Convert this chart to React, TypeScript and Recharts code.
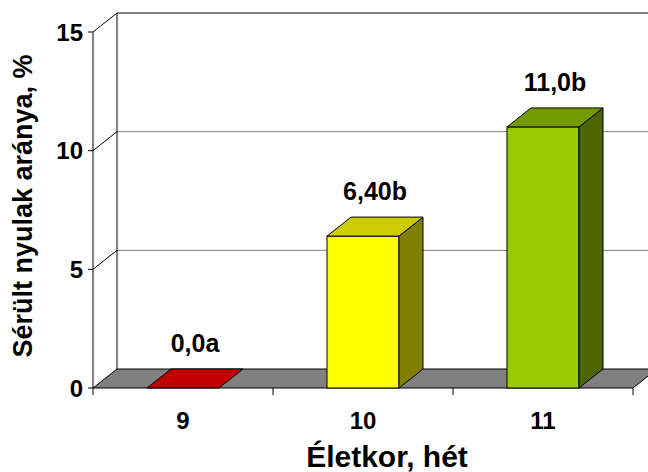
import React from 'react';
import { BarChart, Bar, XAxis, YAxis, CartesianGrid, LabelList } from 'recharts';

// Injured rabbits by age (weeks)
const AGE_WEEKS = ['9', '10', '11'];
const INJURED_PCT = [0, 6.4, 11.0];
const VALUE_LABELS = ['0,0a', '6,40b', '11,0b'];
const Y_TICKS = [0, 5, 10, 15];

// Face colours for each bar: front, top, right side
const FRONT_COLORS = ['#FF0000', '#FFFF00', '#99CC00'];
const TOP_COLORS = ['#C00000', '#CCCC00', '#739900'];
const SIDE_COLORS = ['#800000', '#808000', '#4D6600'];

const data = AGE_WEEKS.map((age, i) => ({
  age,
  value: INJURED_PCT[i],
  label: VALUE_LABELS[i],
}));

// Oblique depth of the 3D projection
const DX = 24;
const DY = 19;

const FONT = '"Liberation Sans", Arial, Helvetica, sans-serif';

// Back wall, side-wall edges and floor, drawn from the y-axis grid coordinates
const WallLine = (p: any) => {
  const { x1, x2, y1, index } = p;
  const top = p.y;
  const bottom = p.y + p.height;
  const isFloor = Math.abs(y1 - bottom) < 1;
  const isTop = Math.abs(y1 - top) < 1;
  const bx1 = x1 + DX;
  const bx2 = x2 + DX;
  const by = y1 - DY;

  if (isFloor) {
    const n = AGE_WEEKS.length;
    const step = (x2 - x1) / n;
    const ticks = [];
    for (let i = 0; i <= n; i++) {
      const tx = x1 + i * step;
      ticks.push(<line key={`t${i}`} x1={tx} y1={y1} x2={tx} y2={y1 + 7} stroke="#000" strokeWidth={1} />);
    }
    return (
      <g key={`wall-${index}`}>
        <polygon
          points={`${x1},${y1} ${x2},${y1} ${bx2},${by} ${bx1},${by}`}
          fill="#808080"
          stroke="#000"
          strokeWidth={1}
        />
        {ticks}
      </g>
    );
  }

  return (
    <g key={`wall-${index}`}>
      <line x1={bx1} y1={by} x2={bx2} y2={by} stroke={isTop ? '#000' : '#808080'} strokeWidth={1} />
      <line x1={x1} y1={y1} x2={bx1} y2={by} stroke="#000" strokeWidth={1} />
      {isTop && <line x1={bx1} y1={by} x2={bx1} y2={by + p.height} stroke="#000" strokeWidth={1} />}
    </g>
  );
};

// Box-shaped bar: front face, top face and right side face
const Bar3D = (p: any) => {
  const { x, y, width, height } = p;
  const i = p.index ?? 0;
  const h = Math.max(0, height);
  return (
    <g>
      {h > 0 && (
        <>
          <rect x={x} y={y} width={width} height={h} fill={FRONT_COLORS[i]} stroke="#000" strokeWidth={1} />
          <polygon
            points={`${x + width},${y} ${x + width + DX},${y - DY} ${x + width + DX},${y + h - DY} ${x + width},${y + h}`}
            fill={SIDE_COLORS[i]}
            stroke="#000"
            strokeWidth={1}
          />
        </>
      )}
      <polygon
        points={`${x},${y} ${x + width},${y} ${x + width + DX},${y - DY} ${x + DX},${y - DY}`}
        fill={TOP_COLORS[i]}
        stroke="#000"
        strokeWidth={1}
      />
    </g>
  );
};

const ValueLabel = (p: any) => {
  const { x, y, width, value } = p;
  return (
    <text
      x={x + width / 2 + DX / 2}
      y={y - 36}
      textAnchor="middle"
      fontFamily={FONT}
      fontWeight="bold"
      fontSize={25}
      fill="#000"
    >
      {value}
    </text>
  );
};

const YTitle = (p: any) => {
  const vb = p.viewBox || {};
  const cx = 32;
  const cy = vb.y + vb.height / 2 - 4;
  return (
    <text
      x={cx}
      y={cy}
      transform={`rotate(-90, ${cx}, ${cy})`}
      textAnchor="middle"
      fontFamily={FONT}
      fontWeight="bold"
      fontSize={27}
      fill="#000"
    >
      Sérült nyulak aránya, %
    </text>
  );
};

const XTitle = (p: any) => {
  const vb = p.viewBox || {};
  return (
    <text
      x={vb.x + vb.width / 2 + DX}
      y={467}
      textAnchor="middle"
      fontFamily={FONT}
      fontWeight="bold"
      fontSize={30}
      fill="#000"
    >
      Életkor, hét
    </text>
  );
};

export default function App() {
  return (
    <div style={{ position: 'absolute', left: 0, top: 0, width: 648, height: 472, background: '#fff', overflow: 'hidden' }}>
      <BarChart
        width={648}
        height={472}
        data={data}
        margin={{ top: 32, right: 15, left: 0, bottom: 0 }}
        barCategoryGap="30%"
      >
        <CartesianGrid horizontal={WallLine} vertical={false} />
        <XAxis
          dataKey="age"
          height={84}
          axisLine={false}
          tickLine={false}
          tickSize={6}
          tickMargin={18}
          tick={{ fontFamily: FONT, fontWeight: 'bold', fontSize: 24, fill: '#000' }}
          label={<XTitle />}
        />
        <YAxis
          width={93}
          domain={[0, 15]}
          ticks={Y_TICKS}
          interval={0}
          axisLine={{ stroke: '#000', strokeWidth: 1 }}
          tickLine={{ stroke: '#000', strokeWidth: 1 }}
          tickSize={5}
          tickMargin={5}
          tick={{ fontFamily: FONT, fontWeight: 'bold', fontSize: 24, fill: '#000' }}
          label={<YTitle />}
        />
        <Bar dataKey="value" shape={Bar3D} isAnimationActive={false}>
          <LabelList dataKey="label" content={ValueLabel} />
        </Bar>
      </BarChart>
    </div>
  );
}
